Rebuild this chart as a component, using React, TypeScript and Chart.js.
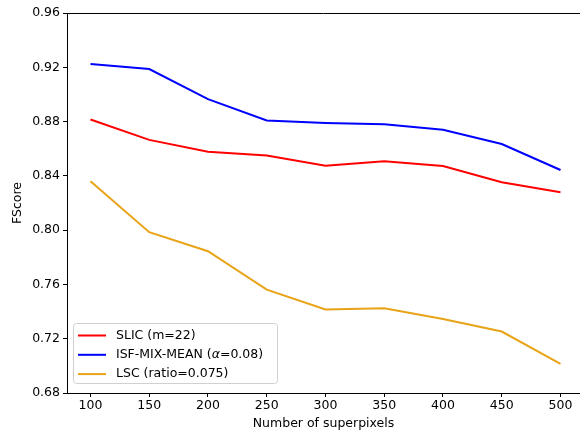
import React, { useEffect, useRef } from "react";
import { Chart, registerables } from "chart.js";

Chart.register(...registerables);

const xValues = [100, 150, 200, 250, 300, 350, 400, 450, 500];
const slic = [0.8815, 0.8665, 0.8578, 0.8550, 0.8475, 0.8508, 0.8472, 0.8353, 0.8280];
const isf = [0.9225, 0.9187, 0.8965, 0.8808, 0.8790, 0.8780, 0.8740, 0.8635, 0.8443];
const lsc = [0.8360, 0.7985, 0.7845, 0.7562, 0.7415, 0.7425, 0.7345, 0.7253, 0.7015];
const xTicks = [100, 150, 200, 250, 300, 350, 400, 450, 500];
const yTicks = [0.68, 0.72, 0.76, 0.8, 0.84, 0.88, 0.92, 0.96];
const seriesLabels = ["SLIC (m=22)", "ISF-MIX-MEAN (α=0.08)", "LSC (ratio=0.075)"];
const seriesColors = ["#ff0000", "#0000ff", "#e8a317"];

const FONT = "'DejaVu Sans', sans-serif";
const FS = 12.5;

const frameLegend = {
  id: "frameLegend",
  afterDraw(chart: any) {
    const { ctx, chartArea } = chart;
    ctx.save();
    // top spine
    ctx.strokeStyle = "#000";
    ctx.lineWidth = 1;
    ctx.beginPath();
    ctx.moveTo(chartArea.left, chartArea.top + 0.5);
    ctx.lineTo(chartArea.right, chartArea.top + 0.5);
    ctx.stroke();

    // legend
    const bx = chartArea.left + 6;
    const by = chartArea.bottom - 70;
    const bw = 204;
    const bh = 60;
    ctx.fillStyle = "rgba(255,255,255,0.8)";
    ctx.strokeStyle = "#d0d0d0";
    ctx.lineWidth = 1;
    ctx.beginPath();
    (ctx as any).roundRect(bx + 0.5, by + 0.5, bw, bh, 3);
    ctx.fill();
    ctx.stroke();
    ctx.font = `${FS}px ${FONT}`;
    ctx.textBaseline = "middle";
    ctx.textAlign = "left";
    for (let i = 0; i < seriesLabels.length; i++) {
      const y = by + 12.5 + i * 19.3;
      ctx.strokeStyle = seriesColors[i];
      ctx.lineWidth = 2;
      ctx.beginPath();
      ctx.moveTo(bx + 5, y);
      ctx.lineTo(bx + 33, y);
      ctx.stroke();
      ctx.fillStyle = "#000";
      const label = seriesLabels[i];
      const ai = label.indexOf("α");
      let tx = bx + 43;
      if (ai >= 0) {
        const a = label.slice(0, ai);
        const b = label.slice(ai + 1);
        ctx.fillText(a, tx, y);
        tx += ctx.measureText(a).width;
        ctx.font = `italic ${FS}px ${FONT}`;
        ctx.fillText("α", tx, y);
        tx += ctx.measureText("α").width;
        ctx.font = `${FS}px ${FONT}`;
        ctx.fillText(b, tx, y);
      } else {
        ctx.fillText(label, tx, y);
      }
    }
    ctx.restore();
  },
};

export default function App() {
  const ref = useRef<HTMLCanvasElement>(null);
  useEffect(() => {
    const mk = (data: number[]) => xValues.map((x, i) => ({ x, y: data[i] }));
    const seriesData = [slic, isf, lsc];
    const chart = new Chart(ref.current!, {
      type: "line",
      data: {
        datasets: seriesData.map((d, i) => ({
          label: seriesLabels[i],
          data: mk(d),
          borderColor: seriesColors[i],
          backgroundColor: seriesColors[i],
          borderWidth: 2,
          pointRadius: 0,
          tension: 0,
          fill: false,
        })),
      },
      options: {
        responsive: false,
        animation: false,
        devicePixelRatio: 1,
        layout: { padding: { top: 13, right: 0, left: 0, bottom: 0 } },
        plugins: { legend: { display: false }, tooltip: { enabled: false } },
        scales: {
          x: {
            type: "linear",
            min: 80,
            max: 516.6,
            afterBuildTicks: (s: any) => {
              s.ticks = xTicks.map((v) => ({ value: v }));
            },
            afterFit: (s: any) => {
              s.height = 38;
            },
            ticks: {
              color: "#000",
              font: { family: FONT, size: FS },
              padding: 1,
              maxRotation: 0,
              autoSkip: false,
            },
            grid: {
              display: true,
              drawOnChartArea: false,
              drawTicks: true,
              tickLength: 4,
              color: "#000",
            },
            border: { display: true, color: "#000", width: 1 },
            title: {
              display: true,
              text: "Number of superpixels",
              color: "#000",
              font: { family: FONT, size: FS },
              padding: { top: 0, bottom: 0 },
            },
          },
          y: {
            type: "linear",
            min: 0.68,
            max: 0.96,
            afterBuildTicks: (s: any) => {
              s.ticks = yTicks.map((v) => ({ value: v }));
            },
            afterFit: (s: any) => {
              s.width = 67;
            },
            ticks: {
              color: "#000",
              font: { family: FONT, size: FS },
              padding: 3,
              callback: (v: any) => Number(v).toFixed(2),
            },
            grid: {
              display: true,
              drawOnChartArea: false,
              drawTicks: true,
              tickLength: 4,
              color: "#000",
            },
            border: { display: true, color: "#000", width: 1 },
            title: {
              display: true,
              text: "FScore",
              color: "#000",
              font: { family: FONT, size: FS },
              padding: { top: 10, bottom: 0 },
            },
          },
        },
      },
      plugins: [frameLegend],
    } as any);
    return () => chart.destroy();
  }, []);
  return (
    <div style={{ position: "fixed", left: 0, top: 0, width: 580, height: 431, background: "#fff" }}>
      <canvas ref={ref} width={580} height={431} style={{ display: "block" }} />
    </div>
  );
}
